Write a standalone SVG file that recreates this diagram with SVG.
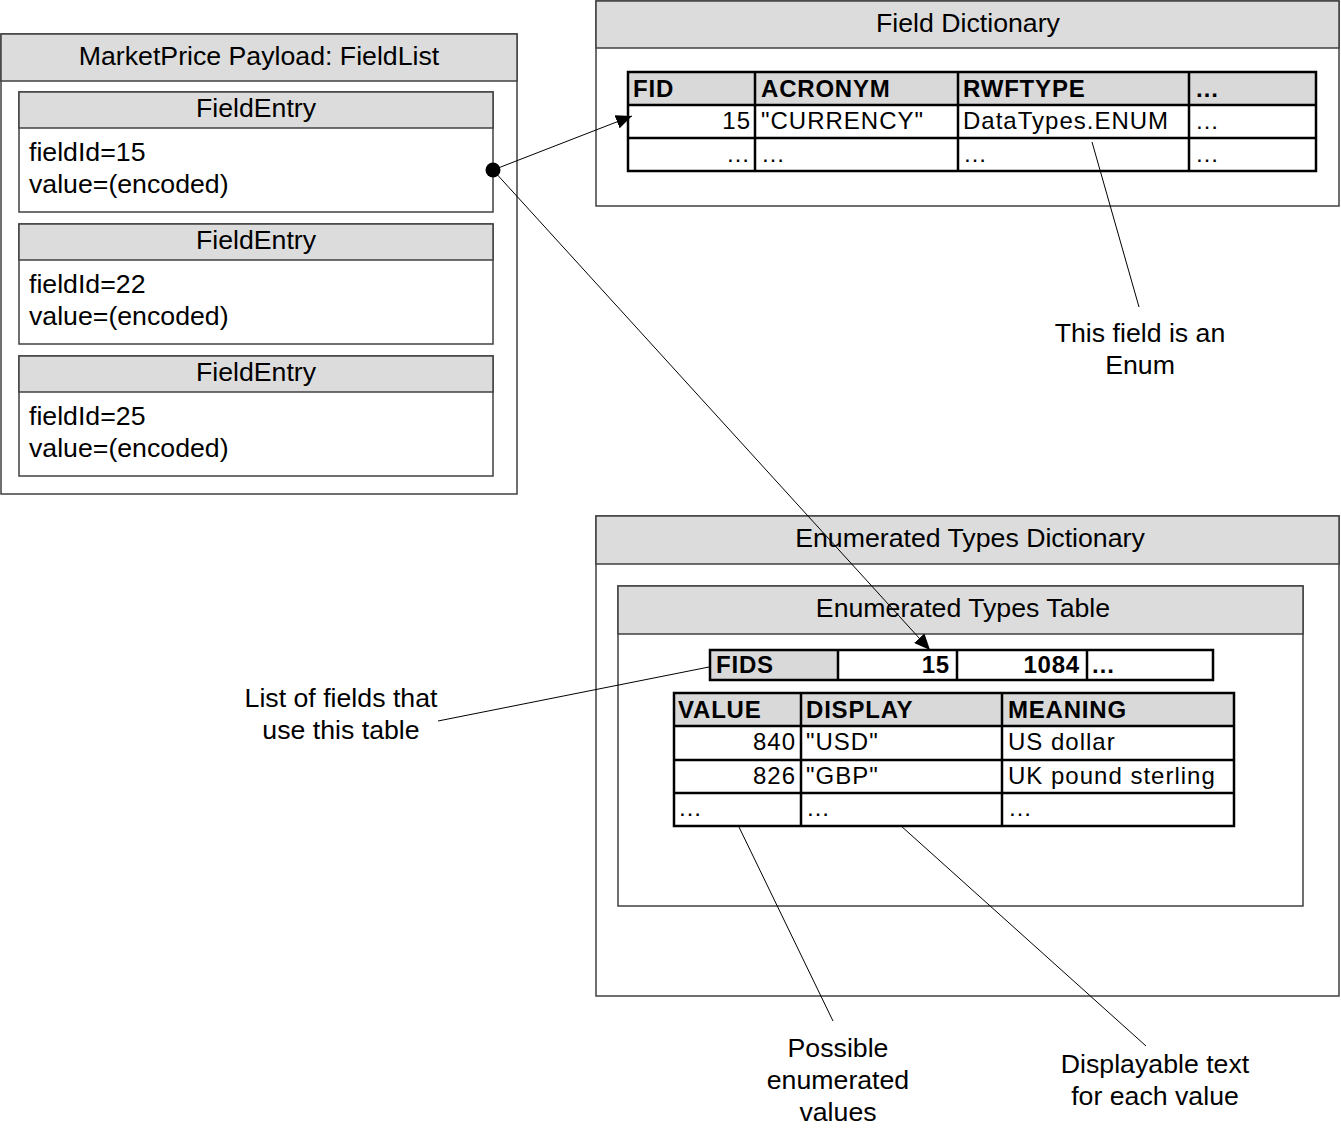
<svg xmlns="http://www.w3.org/2000/svg" width="1341" height="1129" viewBox="0 0 1341 1129">
<defs>
<style>
text{font-family:"Liberation Sans",Arial,sans-serif;fill:#000}
.box{fill:#fff;stroke:#404040;stroke-width:1.5}
.hdr{fill:#dcdcdc;stroke:#404040;stroke-width:1.5}
.t26{font-size:26.7px}
.mid{text-anchor:middle}
.end{text-anchor:end}
.tb{font-size:24px;font-weight:bold;letter-spacing:0.8px}
.tn{font-size:24px;letter-spacing:1px}
.grid{fill:none;stroke:#000;stroke-width:2.5}
.thdr{fill:#d9d9d9}
.conn{stroke:#000;stroke-width:1;fill:none}
</style>
<marker id="arr" viewBox="0 0 16 14" refX="16" refY="7" markerWidth="16" markerHeight="14" markerUnits="userSpaceOnUse" orient="auto">
<path d="M0,0 L16,7 L0,14 Z" fill="#000"/>
</marker>
</defs>
<rect width="1341" height="1129" fill="#fff"/>

<g id="fieldlist">
<rect class="box" x="1" y="34" width="516" height="460"/>
<rect class="hdr" x="1" y="34" width="516" height="47"/>
<text class="t26 mid" x="259" y="65">MarketPrice Payload: FieldList</text>
</g>

<g id="entry1">
<rect class="box" x="19" y="92" width="474" height="120"/>
<rect class="hdr" x="19" y="92" width="474" height="36"/>
<text class="t26 mid" x="256" y="117">FieldEntry</text>
<text class="t26" x="29" y="161">fieldId=15</text>
<text class="t26" x="29" y="193">value=(encoded)</text>
</g>
<g id="entry2">
<rect class="box" x="19" y="224" width="474" height="120"/>
<rect class="hdr" x="19" y="224" width="474" height="36"/>
<text class="t26 mid" x="256" y="249">FieldEntry</text>
<text class="t26" x="29" y="293">fieldId=22</text>
<text class="t26" x="29" y="325">value=(encoded)</text>
</g>
<g id="entry3">
<rect class="box" x="19" y="356" width="474" height="120"/>
<rect class="hdr" x="19" y="356" width="474" height="36"/>
<text class="t26 mid" x="256" y="381">FieldEntry</text>
<text class="t26" x="29" y="425">fieldId=25</text>
<text class="t26" x="29" y="457">value=(encoded)</text>
</g>

<g id="fielddict">
<rect class="box" x="596" y="1" width="743" height="205"/>
<rect class="hdr" x="596" y="1" width="743" height="47"/>
<text class="t26 mid" x="968" y="32">Field Dictionary</text>
<rect class="thdr" x="628" y="72" width="688" height="33"/>
<path class="grid" d="M628,72 H1316 V171 H628 Z M628,105 H1316 M628,138 H1316 M755,72 V171 M958,72 V171 M1189,72 V171"/>
<text class="tb" x="633" y="97">FID</text>
<text class="tb" x="761" y="97">ACRONYM</text>
<text class="tb" x="963" y="97">RWFTYPE</text>
<text class="tb" x="1195" y="97">…</text>
<text class="tn end" x="751" y="129">15</text>
<text class="tn" x="761" y="129">"CURRENCY"</text>
<text class="tn" x="963" y="129">DataTypes.ENUM</text>
<text class="tn" x="1195" y="129">…</text>
<text class="tn end" x="751" y="162">…</text>
<text class="tn" x="761" y="162">…</text>
<text class="tn" x="963" y="162">…</text>
<text class="tn" x="1195" y="162">…</text>
</g>

<g id="enumdict">
<rect class="box" x="596" y="516" width="743" height="480"/>
<rect class="hdr" x="596" y="516" width="743" height="48"/>
<text class="t26 mid" x="970" y="547">Enumerated Types Dictionary</text>
</g>

<g id="enumtable">
<rect class="box" x="618" y="586" width="685" height="320"/>
<rect class="hdr" x="618" y="586" width="685" height="48"/>
<text class="t26 mid" x="963" y="617">Enumerated Types Table</text>
</g>

<g id="fids">
<rect class="thdr" x="710" y="650" width="128" height="30"/>
<path class="grid" d="M710,650 H1213 V680 H710 Z M838,650 V680 M957,650 V680 M1087,650 V680"/>
<text class="tb" x="716" y="673">FIDS</text>
<text class="tb end" x="950" y="673">15</text>
<text class="tb end" x="1080" y="673">1084</text>
<text class="tb" x="1091" y="673">…</text>
</g>

<g id="values">
<rect class="thdr" x="674" y="693" width="560" height="33"/>
<path class="grid" d="M674,693 H1234 V826 H674 Z M674,726 H1234 M674,760 H1234 M674,793 H1234 M801,693 V826 M1002,693 V826"/>
<text class="tb" x="678" y="718">VALUE</text>
<text class="tb" x="806" y="718">DISPLAY</text>
<text class="tb" x="1008" y="718">MEANING</text>
<text class="tn end" x="796" y="750">840</text>
<text class="tn" x="806" y="750">"USD"</text>
<text class="tn" x="1008" y="750">US dollar</text>
<text class="tn end" x="796" y="784">826</text>
<text class="tn" x="806" y="784">"GBP"</text>
<text class="tn" x="1008" y="784">UK pound sterling</text>
<text class="tn" x="678" y="816">…</text>
<text class="tn" x="806" y="816">…</text>
<text class="tn" x="1008" y="816">…</text>
</g>

<g id="labels">
<text class="t26 mid" x="1140" y="342">This field is an</text>
<text class="t26 mid" x="1140" y="374">Enum</text>
<text class="t26 mid" x="341" y="707">List of fields that</text>
<text class="t26 mid" x="341" y="739">use this table</text>
<text class="t26 mid" x="838" y="1057">Possible</text>
<text class="t26 mid" x="838" y="1089">enumerated</text>
<text class="t26 mid" x="838" y="1121">values</text>
<text class="t26 mid" x="1155" y="1073">Displayable text</text>
<text class="t26 mid" x="1155" y="1105">for each value</text>
</g>

<g id="connectors">
<line class="conn" x1="493" y1="170" x2="632" y2="116" marker-end="url(#arr)"/>
<line class="conn" x1="493" y1="170" x2="930" y2="650" marker-end="url(#arr)"/>
<circle cx="493" cy="170" r="7.5" fill="#000"/>
<line class="conn" x1="1092" y1="142" x2="1139" y2="307"/>
<line class="conn" x1="709" y1="667" x2="438" y2="721"/>
<line class="conn" x1="738" y1="825" x2="833" y2="1021"/>
<line class="conn" x1="900" y1="825" x2="1146" y2="1046"/>
</g>
</svg>
